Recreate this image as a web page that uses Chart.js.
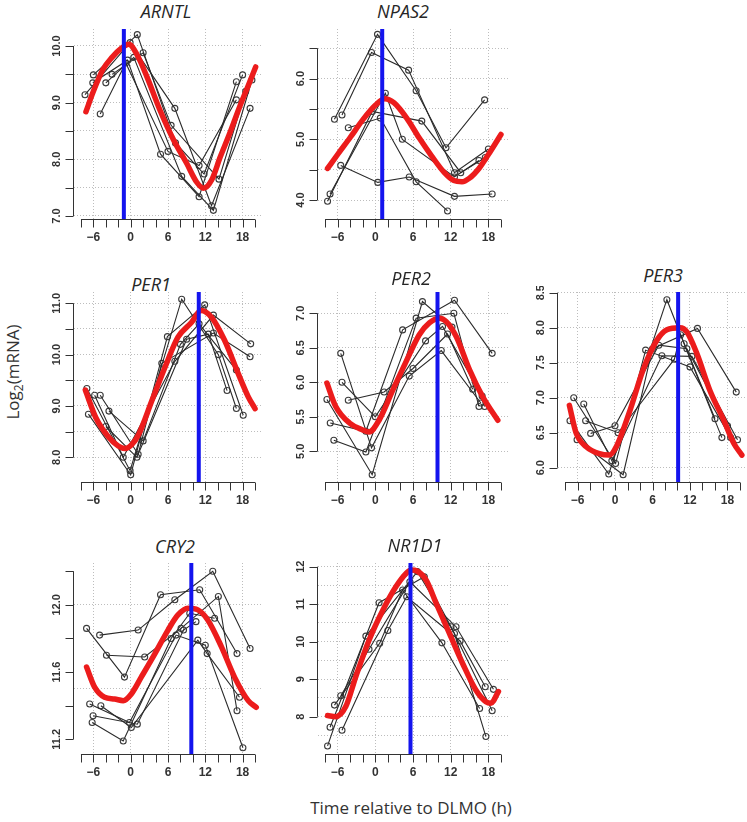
<!DOCTYPE html>
<html>
<head>
<meta charset="utf-8">
<title>Clock gene expression relative to DLMO</title>
<script src="https://cdn.jsdelivr.net/npm/chart.js@4.4.1/dist/chart.umd.min.js"></script>
<style>
  html, body { margin: 0; padding: 0; background: #fff; }
  body { width: 747px; height: 822px; position: relative; overflow: hidden; font-family: 'Open Sans', sans-serif; }
  canvas { position: absolute; }
  .gene { position: absolute; transform: translate(-50%, -50%); font-style: italic; font-size: 18px; color: #262626; white-space: nowrap; }
  #ylab { position: absolute; left: 14px; top: 372px; transform: translate(-50%, -50%) rotate(-90deg); font-size: 17px; color: #333; white-space: nowrap; }
  #ylab sub { font-size: 12px; }
  #xlab { position: absolute; left: 411px; top: 807px; transform: translate(-50%, -50%); font-size: 17px; color: #333; white-space: nowrap; }
</style>
</head>
<body>
<div id="ylab">Log<sub>2</sub>(mRNA)</div>
<div id="xlab">Time relative to DLMO (h)</div>
<script>
// hours relative to DLMO
const X_TICKS = [-8, -6, -4, -2, 0, 2, 4, 6, 8, 10, 12, 14, 16, 18, 20];
const X_LABELS = [-6, 0, 6, 12, 18];
const X_GRID = [-6, 0, 6, 12, 18];

const GENES = ['ARNTL', 'NPAS2', 'PER1', 'PER2', 'PER3', 'CRY2', 'NR1D1'];

// individual subjects, [hour, log2 mRNA]
const ARNTL_SUBJECTS = [
  [[-7.35, 9.14], [-0.1, 10.06], [7.1, 8.9], [13.0, 7.18], [19.2, 8.9]],
  [[-6.0, 9.49], [1.06, 10.2], [7.2, 8.29], [11.8, 7.74], [18.0, 9.49]],
  [[-6.1, 9.35], [-0.5, 9.75], [4.8, 8.09], [11.0, 7.34], [17.0, 9.37]],
  [[-4.9, 8.8], [-0.8, 9.7], [6.0, 8.14], [11.0, 7.89], [17.0, 9.05]],
  [[-4.0, 9.35], [0.5, 9.8], [8.2, 7.7], [13.3, 7.1], [19.5, 9.4]],
  [[-3.0, 9.5], [2.0, 9.88], [6.5, 8.6], [14.2, 7.65], [18.5, 9.2]],
];
const NPAS2_SUBJECTS = [
  [[-6.5, 5.33], [0.35, 6.73], [6.5, 5.8], [11.25, 4.86], [17.4, 5.65]],
  [[-5.3, 5.4], [-0.6, 6.43], [5.3, 6.14], [12.6, 4.45], [18.0, 4.84]],
  [[-7.6, 3.98], [-0.5, 5.46], [7.4, 5.3], [13.6, 4.45], [17.5, 4.7]],
  [[-7.2, 4.1], [1.6, 5.76], [4.3, 5.0], [12.6, 4.38], [16.5, 4.65]],
  [[-5.5, 4.57], [0.4, 4.29], [5.4, 4.38], [12.6, 4.06], [18.6, 4.1]],
  [[-4.3, 5.19], [0.8, 5.35], [6.5, 4.3], [11.5, 3.82]],
];
const PER1_SUBJECTS = [
  [[-7.05, 9.34], [-0.1, 7.74], [8.2, 11.08], [14.1, 10.0], [17.0, 8.95]],
  [[-6.8, 8.84], [0.0, 7.66], [5.9, 10.35], [11.9, 10.97], [18.1, 8.82]],
  [[-5.8, 9.21], [-1.2, 8.0], [7.1, 9.87], [13.3, 10.77], [19.3, 10.21]],
  [[-4.9, 9.21], [1.2, 8.06], [5.0, 9.83], [13.3, 10.42], [19.2, 9.96]],
  [[-3.5, 8.9], [2.0, 8.32], [8.0, 10.2], [11.0, 10.6], [17.0, 9.7]],
  [[-4.0, 8.6], [1.0, 8.0], [9.0, 10.3], [12.5, 10.4], [15.5, 9.3]],
];
const PER2_SUBJECTS = [
  [[-7.7, 5.75], [-0.5, 4.66], [7.5, 7.17], [12.2, 6.8], [17.4, 5.65]],
  [[-7.17, 5.41], [-1.5, 5.29], [4.35, 6.76], [12.6, 7.19], [18.6, 6.42]],
  [[-6.6, 5.16], [-1.5, 4.99], [6.5, 6.93], [12.5, 7.0], [16.5, 5.65]],
  [[-5.5, 6.42], [-0.6, 5.05], [5.4, 6.09], [10.5, 6.46], [16.8, 5.7]],
  [[-5.3, 6.0], [0.0, 5.5], [8.0, 6.6], [10.7, 6.81], [17.0, 5.8]],
  [[-4.3, 5.74], [1.4, 5.86], [6.0, 6.2], [11.5, 6.7], [15.5, 5.9]],
];
const PER3_SUBJECTS = [
  [[-7.2, 6.67], [-1.0, 5.91], [8.3, 8.4], [11.06, 7.77], [17.1, 6.43]],
  [[-6.6, 7.0], [0.1, 6.06], [4.9, 7.68], [12.0, 7.44], [18.5, 6.43]],
  [[-6.07, 6.4], [1.3, 5.9], [6.0, 7.7], [13.2, 7.99], [19.4, 7.08]],
  [[-5.0, 6.91], [-0.5, 6.1], [7.5, 7.6], [12.3, 7.59], [19.6, 6.4]],
  [[-4.7, 6.67], [0.5, 6.5], [9.5, 7.55], [10.5, 7.9], [16.0, 6.7]],
  [[-3.9, 6.49], [0.0, 6.6], [7.0, 7.75], [11.5, 7.7], [18.0, 6.6]],
];
const CRY2_SUBJECTS = [
  [[-7.1, 11.86], [-1.0, 11.57], [4.8, 12.06], [11.1, 12.09], [17.1, 11.71]],
  [[-5.0, 11.82], [1.2, 11.85], [7.1, 12.03], [13.2, 12.2], [19.2, 11.74]],
  [[-3.9, 11.7], [2.25, 11.69], [8.1, 11.86], [14.1, 12.05], [17.1, 11.37]],
  [[-6.6, 11.41], [-0.2, 11.3], [7.3, 11.82], [12.0, 11.76], [18.05, 11.15]],
  [[-4.8, 11.4], [0.1, 11.27], [10.8, 11.79], [12.3, 11.71], [17.5, 11.45]],
  [[-6.2, 11.3], [-1.2, 11.19], [6.5, 11.8], [9.5, 11.95], [13.5, 11.92]],
  [[-6.05, 11.34], [1.07, 11.29], [8.5, 11.85], [10.5, 11.9]],
];
const NR1D1_SUBJECTS = [
  [[-7.6, 7.22], [-1.5, 10.15], [6.7, 11.87], [12.6, 10.22], [17.6, 7.47]],
  [[-7.2, 7.72], [0.6, 11.04], [7.8, 11.73], [12.05, 10.4], [18.6, 8.16]],
  [[-6.5, 8.31], [0.7, 9.96], [4.35, 11.38], [10.6, 9.97], [16.6, 8.22]],
  [[-5.5, 8.56], [-1.0, 9.8], [5.5, 11.6], [12.85, 10.4], [18.8, 8.73]],
  [[-5.3, 7.64], [2.0, 10.3], [5.0, 11.2], [13.5, 10.02], [17.5, 8.8]],
];

// fitted group curves (red)
const ARNTL_FIT = [[-7.2, 8.84], [-6, 9.2], [-4.5, 9.58], [-3, 9.8], [-1.5, 9.96], [-0.3, 10.03], [1, 9.85], [2.6, 9.46], [4.7, 8.87], [6.9, 8.34], [9, 7.93], [10.6, 7.6], [11.7, 7.49], [13, 7.63], [14.4, 8.04], [15.9, 8.45], [17.5, 8.92], [18.9, 9.3], [20.1, 9.63]];
const NPAS2_FIT = [[-7.6, 4.52], [-6, 4.75], [-4, 5.03], [-2, 5.32], [0, 5.56], [1.5, 5.67], [3, 5.6], [5, 5.35], [7, 5.02], [9, 4.72], [11, 4.45], [12.5, 4.32], [13.8, 4.3], [15, 4.36], [16.5, 4.52], [18, 4.75], [20, 5.08]];
const PER1_FIT = [[-7.3, 9.31], [-5.6, 8.77], [-3.6, 8.4], [-2, 8.22], [-0.9, 8.17], [0.2, 8.25], [1.3, 8.45], [3.4, 9.1], [5.5, 9.75], [7.6, 10.34], [9.8, 10.63], [11.3, 10.86], [13, 10.73], [15.1, 10.28], [17.3, 9.63], [18.9, 9.18], [20, 8.95]];
const PER2_FIT = [[-7.7, 5.99], [-6.3, 5.65], [-4.1, 5.41], [-2, 5.31], [-1, 5.28], [0.6, 5.45], [2.8, 5.89], [4.9, 6.3], [7, 6.69], [8.6, 6.86], [10.2, 6.93], [11.3, 6.88], [12.9, 6.66], [15, 6.18], [17.1, 5.79], [19.5, 5.45]];
const PER3_FIT = [[-7.3, 6.89], [-6.2, 6.49], [-4.6, 6.3], [-2.5, 6.2], [-0.9, 6.18], [0.2, 6.3], [2.4, 6.82], [4.5, 7.4], [6.7, 7.82], [8.3, 7.97], [10.4, 8.0], [11.5, 7.94], [13.1, 7.63], [15.2, 7.1], [17.4, 6.68], [19, 6.35], [20.3, 6.18]];
const CRY2_FIT = [[-7.1, 11.63], [-5.8, 11.51], [-4.2, 11.45], [-2.6, 11.44], [-1.2, 11.43], [0.1, 11.47], [1.7, 11.57], [3.9, 11.71], [6, 11.85], [7.6, 11.94], [9.2, 11.98], [10.8, 11.97], [12.4, 11.91], [14.6, 11.75], [16.7, 11.57], [18.9, 11.43], [20.2, 11.39]];
const NR1D1_FIT = [[-7.6, 8.03], [-6.3, 8.0], [-4.7, 8.27], [-3.1, 9.07], [-1, 10.04], [1.2, 10.84], [3.3, 11.47], [4.9, 11.82], [5.7, 11.91], [6.7, 11.88], [8.1, 11.64], [9.7, 11.02], [11.8, 10.22], [13.9, 9.42], [16, 8.71], [17.6, 8.4], [18.4, 8.36], [19.6, 8.67]];

// acrophase (blue line), hours
const PHASE = [-1.1, 1.1, 10.95, 9.9, 10.1, 9.75, 5.6];

// y axis tick marks and labels
const Y_TICKS = [
  [7.0, 7.5, 8.0, 8.5, 9.0, 9.5, 10.0],
  [4.0, 4.5, 5.0, 5.5, 6.0, 6.5],
  [8.0, 8.5, 9.0, 9.5, 10.0, 10.5, 11.0],
  [5.0, 5.5, 6.0, 6.5, 7.0],
  [6.0, 6.5, 7.0, 7.5, 8.0, 8.5],
  [11.2, 11.4, 11.6, 11.8, 12.0, 12.2],
  [8, 9, 10, 11, 12],
];
const Y_LABELS = [
  ['7.0', '8.0', '9.0', '10.0'],
  ['4.0', '5.0', '6.0'],
  ['8.0', '9.0', '10.0', '11.0'],
  ['5.0', '5.5', '6.0', '6.5', '7.0'],
  ['6.0', '6.5', '7.0', '7.5', '8.0', '8.5'],
  ['11.2', '11.6', '12.0'],
  ['8', '9', '10', '11', '12'],
];

const SUBJECTS = [ARNTL_SUBJECTS, NPAS2_SUBJECTS, PER1_SUBJECTS, PER2_SUBJECTS, PER3_SUBJECTS, CRY2_SUBJECTS, NR1D1_SUBJECTS];
const FITS = [ARNTL_FIT, NPAS2_FIT, PER1_FIT, PER2_FIT, PER3_FIT, CRY2_FIT, NR1D1_FIT];

// plot regions on the page and axis ranges
const PANELS = [
  { left: 74, top: 29, width: 188, height: 190, yMin: 6.947, yMax: 10.3, titleX: 166, titleY: 11 },
  { left: 318, top: 29, width: 190, height: 190, yMin: 3.687, yMax: 6.818, titleX: 403, titleY: 11 },
  { left: 74, top: 292, width: 188, height: 190, yMin: 7.519, yMax: 11.22, titleX: 151, titleY: 284 },
  { left: 318, top: 292, width: 190, height: 190, yMin: 4.555, yMax: 7.309, titleX: 411, titleY: 278 },
  { left: 558, top: 292, width: 189, height: 190, yMin: 5.796, yMax: 8.51, titleX: 663, titleY: 275 },
  { left: 74, top: 563, width: 188, height: 191, yMin: 11.1125, yMax: 12.249, titleX: 175, titleY: 546 },
  { left: 318, top: 563, width: 190, height: 191, yMin: 7.005, yMax: 12.1, titleX: 415, titleY: 545 },
];
const X_MIN = -9.12;
const X_MAX = 21.12;
const PAD = { left: 70, right: 6, top: 6, bottom: 34 };
const TICK_LEN = 8;
const INK = '#333333';

function fmtHour(v) {
  return v < 0 ? '\u2212' + Math.abs(v) : String(v);
}

function gridValues(min, max) {
  const out = [];
  for (let v = Math.ceil(min * 2) / 2; v <= max + 1e-9; v += 0.5) out.push(v);
  return out;
}

// R style axes: line only across the tick range, rotated y labels
const rAxes = {
  id: 'rAxes',
  afterDraw(chart, args, opts) {
    const { ctx, chartArea: a } = chart;
    const xs = chart.scales.x;
    const ys = chart.scales.y;
    ctx.save();
    ctx.strokeStyle = INK;
    ctx.fillStyle = INK;
    ctx.lineWidth = 1;

    const by = Math.round(a.bottom) + 0.5;
    ctx.beginPath();
    ctx.moveTo(xs.getPixelForValue(X_TICKS[0]), by);
    ctx.lineTo(xs.getPixelForValue(X_TICKS[X_TICKS.length - 1]), by);
    X_TICKS.forEach((v) => {
      const px = Math.round(xs.getPixelForValue(v)) + 0.5;
      ctx.moveTo(px, by);
      ctx.lineTo(px, by + TICK_LEN);
    });

    const lx = Math.round(a.left) - 0.5;
    const yt = opts.ticks;
    ctx.moveTo(lx, ys.getPixelForValue(yt[0]));
    ctx.lineTo(lx, ys.getPixelForValue(yt[yt.length - 1]));
    yt.forEach((v) => {
      const py = Math.round(ys.getPixelForValue(v)) + 0.5;
      ctx.moveTo(lx, py);
      ctx.lineTo(lx - TICK_LEN, py);
    });
    ctx.stroke();

    ctx.textAlign = 'center';
    ctx.textBaseline = 'middle';
    ctx.font = 'bold 12px "Liberation Sans", Arial, sans-serif';
    X_LABELS.forEach((v) => {
      ctx.fillText(fmtHour(v), xs.getPixelForValue(v), by + 18);
    });

    ctx.font = 'bold 11px "Liberation Sans", Arial, sans-serif';
    opts.labels.forEach((lab) => {
      ctx.save();
      ctx.translate(lx - 17, ys.getPixelForValue(Number(lab)));
      ctx.rotate(-Math.PI / 2);
      ctx.fillText(lab, 0, 0);
      ctx.restore();
    });
    ctx.restore();
  },
};

function toPoints(pairs) {
  return pairs.map(([x, y]) => ({ x, y }));
}

function renderPanel(i) {
  const p = PANELS[i];

  const title = document.createElement('div');
  title.className = 'gene';
  title.textContent = GENES[i];
  title.style.left = p.titleX + 'px';
  title.style.top = p.titleY + 'px';
  document.body.appendChild(title);

  const canvas = document.createElement('canvas');
  canvas.width = p.width + PAD.left + PAD.right;
  canvas.height = p.height + PAD.top + PAD.bottom;
  canvas.style.left = (p.left - PAD.left) + 'px';
  canvas.style.top = (p.top - PAD.top) + 'px';
  document.body.appendChild(canvas);

  const datasets = [
    {
      data: [{ x: PHASE[i], y: p.yMin }, { x: PHASE[i], y: p.yMax }],
      borderColor: '#1414ee',
      borderWidth: 4,
      pointRadius: 0,
      order: 0,
    },
    {
      data: toPoints(FITS[i]),
      borderColor: '#ec1c1c',
      borderWidth: 5.5,
      borderCapStyle: 'round',
      pointRadius: 0,
      cubicInterpolationMode: 'monotone',
      order: 1,
    },
    ...SUBJECTS[i].map((s) => ({
      data: toPoints(s),
      borderColor: '#2a2a2a',
      borderWidth: 1.1,
      pointRadius: 3,
      pointBorderWidth: 1.1,
      pointBorderColor: '#3a3a3a',
      pointBackgroundColor: 'rgba(0,0,0,0)',
      order: 2,
    })),
  ];

  new Chart(canvas, {
    type: 'line',
    data: { datasets },
    plugins: [rAxes],
    options: {
      responsive: false,
      animation: false,
      events: [],
      layout: { padding: PAD },
      plugins: {
        legend: { display: false },
        tooltip: { enabled: false },
        rAxes: { ticks: Y_TICKS[i], labels: Y_LABELS[i] },
      },
      scales: {
        x: {
          type: 'linear',
          min: X_MIN,
          max: X_MAX,
          afterBuildTicks: (s) => { s.ticks = X_GRID.map((v) => ({ value: v })); },
          afterFit: (s) => { s.height = 0; },
          ticks: { display: false },
          grid: { color: '#bdbdbd', lineWidth: 1, drawTicks: false },
          border: { display: false, dash: [1, 2] },
        },
        y: {
          type: 'linear',
          min: p.yMin,
          max: p.yMax,
          afterBuildTicks: (s) => { s.ticks = gridValues(p.yMin, p.yMax).map((v) => ({ value: v })); },
          afterFit: (s) => { s.width = 0; },
          ticks: { display: false },
          grid: { color: '#bdbdbd', lineWidth: 1, drawTicks: false },
          border: { display: false, dash: [1, 2] },
        },
      },
    },
  });
}

GENES.forEach((g, i) => renderPanel(i));
</script>
</body>
</html>
